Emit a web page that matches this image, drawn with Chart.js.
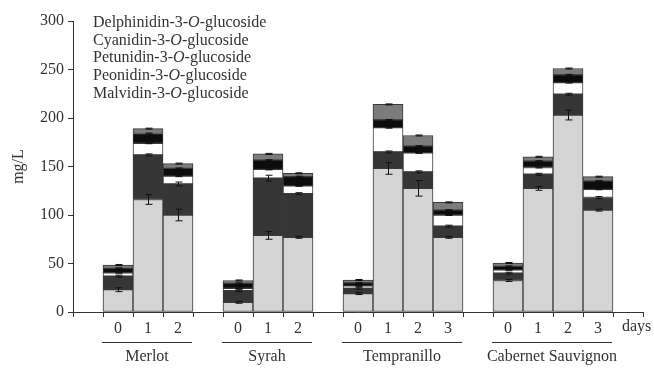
<!DOCTYPE html>
<html>
<head>
<meta charset="utf-8">
<script src="https://cdn.jsdelivr.net/npm/chart.js@4.4.0/dist/chart.umd.min.js"></script>
<style>
  html, body { margin: 0; padding: 0; background: #fff; }
  #wrap { width: 654px; height: 368px; }
</style>
</head>
<body>
<div id="wrap"><canvas id="mychart" width="654" height="368"></canvas></div>
<script>
// cultivars and sampling days on the x axis
const cultivars = ['Merlot', 'Syrah', 'Tempranillo', 'Cabernet Sauvignon'];
const dayLabels = [['0','1','2'], ['0','1','2'], ['0','1','2','3'], ['0','1','2','3']];
const yTicks = [0, 50, 100, 150, 200, 250, 300];

// mg/L, one value per bar (Merlot 0-2, Syrah 0-2, Tempranillo 0-3, Cabernet 0-3)
const malvidin    = [23, 116, 100,  10, 79, 77,  19, 148, 127.5, 77,  32.5, 127.5, 203, 105];
const peonidin    = [14, 46, 32,    12, 59, 45,  5.5, 17, 17, 11.5,   7.5, 14.5, 21.5, 13];
const petunidin   = [3.5, 12, 8,    2.5, 9, 8,   2.5, 25, 19.5, 11.5, 3.5, 7, 12, 8.5];
const cyanidin    = [4.5, 10, 8,    5, 9.5, 9.5, 3, 8, 7, 5,          3.5, 6.5, 8, 8.5];
const delphinidin = [3.5, 5, 5,     3, 6.5, 3.5, 3, 16, 11, 8,        3.5, 4.5, 6.5, 4.5];

// standard deviations
const malvidinErr    = [2, 5, 6,  1, 4, 1,  1, 6, 8, 1,  1, 2, 5, 1];
const peonidinErr    = [1, 1, 2,  1, 3, 1,  1, 1, 1, 1,  1, 1, 1, 1];
const petunidinErr   = [0.5, 0.5, 0.5,  0.5, 0.5, 0.5,  0.5, 0.5, 0.5, 0.5,  0.5, 0.5, 0.5, 0.5];
const cyanidinErr    = [0.5, 0.5, 0.5,  0.5, 0.5, 0.5,  0.5, 0.5, 0.5, 0.5,  0.5, 0.5, 0.5, 0.5];
const delphinidinErr = [0.5, 0.5, 0.5,  0.5, 0.5, 0.5,  0.5, 0.5, 0.5, 0.5,  0.5, 0.5, 0.5, 0.5];

const names = ['Malvidin', 'Peonidin', 'Petunidin', 'Cyanidin', 'Delphinidin'];
const colors = ['#d4d4d4', '#363636', '#ffffff', '#0c0c0c', '#7c7c7c'];

// build the slot layout: an empty slot before each cultivar and one at the end
const slotLabels = [];
const barSlot = [];
const groupSlots = [];
cultivars.forEach((c, g) => {
  slotLabels.push('');
  const first = slotLabels.length;
  dayLabels[g].forEach(d => { barSlot.push(slotLabels.length); slotLabels.push(d); });
  groupSlots.push([first, slotLabels.length - 1]);
});
slotLabels.push('');

function spread(vals) {
  const out = slotLabels.map(() => null);
  vals.forEach((v, i) => { out[barSlot[i]] = v; });
  return out;
}

const series = [malvidin, peonidin, petunidin, cyanidin, delphinidin];
const errors = [malvidinErr, peonidinErr, petunidinErr, cyanidinErr, delphinidinErr];

const serif = 'Liberation Serif';
const ink = '#333';
const fontSize = 16;

const extras = {
  id: 'extras',
  afterDatasetsDraw(chart) {
    const ctx = chart.ctx;
    const y = chart.scales.y;
    ctx.save();
    ctx.strokeStyle = '#111';
    ctx.lineWidth = 1;
    series.forEach((s, i) => {
      const meta = chart.getDatasetMeta(i);
      s.forEach((v, j) => {
        let top = 0;
        for (let k = 0; k <= i; k++) top += series[k][j];
        const el = meta.data[barSlot[j]];
        const x = Math.round(el.x) + 0.5;
        const hi = y.getPixelForValue(top + errors[i][j]);
        const lo = y.getPixelForValue(top - errors[i][j]);
        ctx.beginPath();
        ctx.moveTo(x, hi); ctx.lineTo(x, lo);
        ctx.moveTo(x - 3, hi); ctx.lineTo(x + 4, hi);
        ctx.moveTo(x - 3, lo); ctx.lineTo(x + 4, lo);
        ctx.stroke();
      });
    });
    ctx.restore();
  },
  afterDraw(chart) {
    const ctx = chart.ctx;
    const area = chart.chartArea;
    const x = chart.scales.x;
    const normal = fontSize + 'px "' + serif + '"';
    const italic = 'italic ' + fontSize + 'px "' + serif + '"';
    ctx.save();
    ctx.fillStyle = ink;
    ctx.textBaseline = 'middle';
    ctx.textAlign = 'left';
    // legend, top entry first
    names.slice().reverse().forEach((n, i) => {
      let px = area.left + 20;
      const py = area.top + 1.5 + i * 17.8;
      const head = n + '-3-';
      ctx.font = normal;
      ctx.fillText(head, px, py); px += ctx.measureText(head).width;
      ctx.font = italic;
      ctx.fillText('O', px, py); px += ctx.measureText('O').width;
      ctx.font = normal;
      ctx.fillText('-glucoside', px, py);
    });
    // cultivar names with a rule above
    ctx.font = normal;
    ctx.textAlign = 'center';
    ctx.strokeStyle = ink;
    ctx.lineWidth = 1;
    groupSlots.forEach((gs, g) => {
      const l = x.getPixelForValue(gs[0]) - 16;
      const r = x.getPixelForValue(gs[1]) + 14;
      ctx.beginPath();
      ctx.moveTo(l, area.bottom + 30.5); ctx.lineTo(r, area.bottom + 30.5);
      ctx.stroke();
      ctx.fillText(cultivars[g], (l + r) / 2, area.bottom + 45);
    });
    ctx.textAlign = 'left';
    ctx.fillText('days', area.right - 21, area.bottom + 15);
    ctx.restore();
  }
};

new Chart('mychart', {
  type: 'bar',
  data: {
    labels: slotLabels,
    datasets: series.map((s, i) => ({
      label: names[i] + '-3-O-glucoside',
      data: spread(s),
      backgroundColor: colors[i],
      borderColor: '#3a3a3a',
      borderWidth: 1,
      borderSkipped: false,
      categoryPercentage: 1,
      barPercentage: 1
    }))
  },
  options: {
    responsive: false,
    animation: false,
    layout: { padding: { top: 21, right: 11, left: 0, bottom: 0 } },
    plugins: { legend: { display: false }, tooltip: { enabled: false } },
    scales: {
      x: {
        stacked: true,
        offset: true,
        afterFit(scale) { scale.height = 56; },
        grid: { offset: true, drawOnChartArea: false, drawTicks: true, tickLength: 5, color: ink },
        border: { display: true, color: ink },
        ticks: { color: ink, padding: 2, maxRotation: 0, autoSkip: false, font: { family: serif, size: fontSize } }
      },
      y: {
        stacked: true,
        min: 0,
        max: 300,
        afterFit(scale) { scale.width = 73; },
        afterBuildTicks(scale) { scale.ticks = yTicks.map(v => ({ value: v })); },
        grid: { drawOnChartArea: false, drawTicks: true, tickLength: 5, color: ink },
        border: { display: true, color: ink },
        ticks: { color: ink, padding: 4, font: { family: serif, size: fontSize } },
        title: { display: true, text: 'mg/L', color: ink, padding: { top: 9, bottom: 0 }, font: { family: serif, size: fontSize } }
      }
    }
  },
  plugins: [extras]
});
</script>
</body>
</html>
